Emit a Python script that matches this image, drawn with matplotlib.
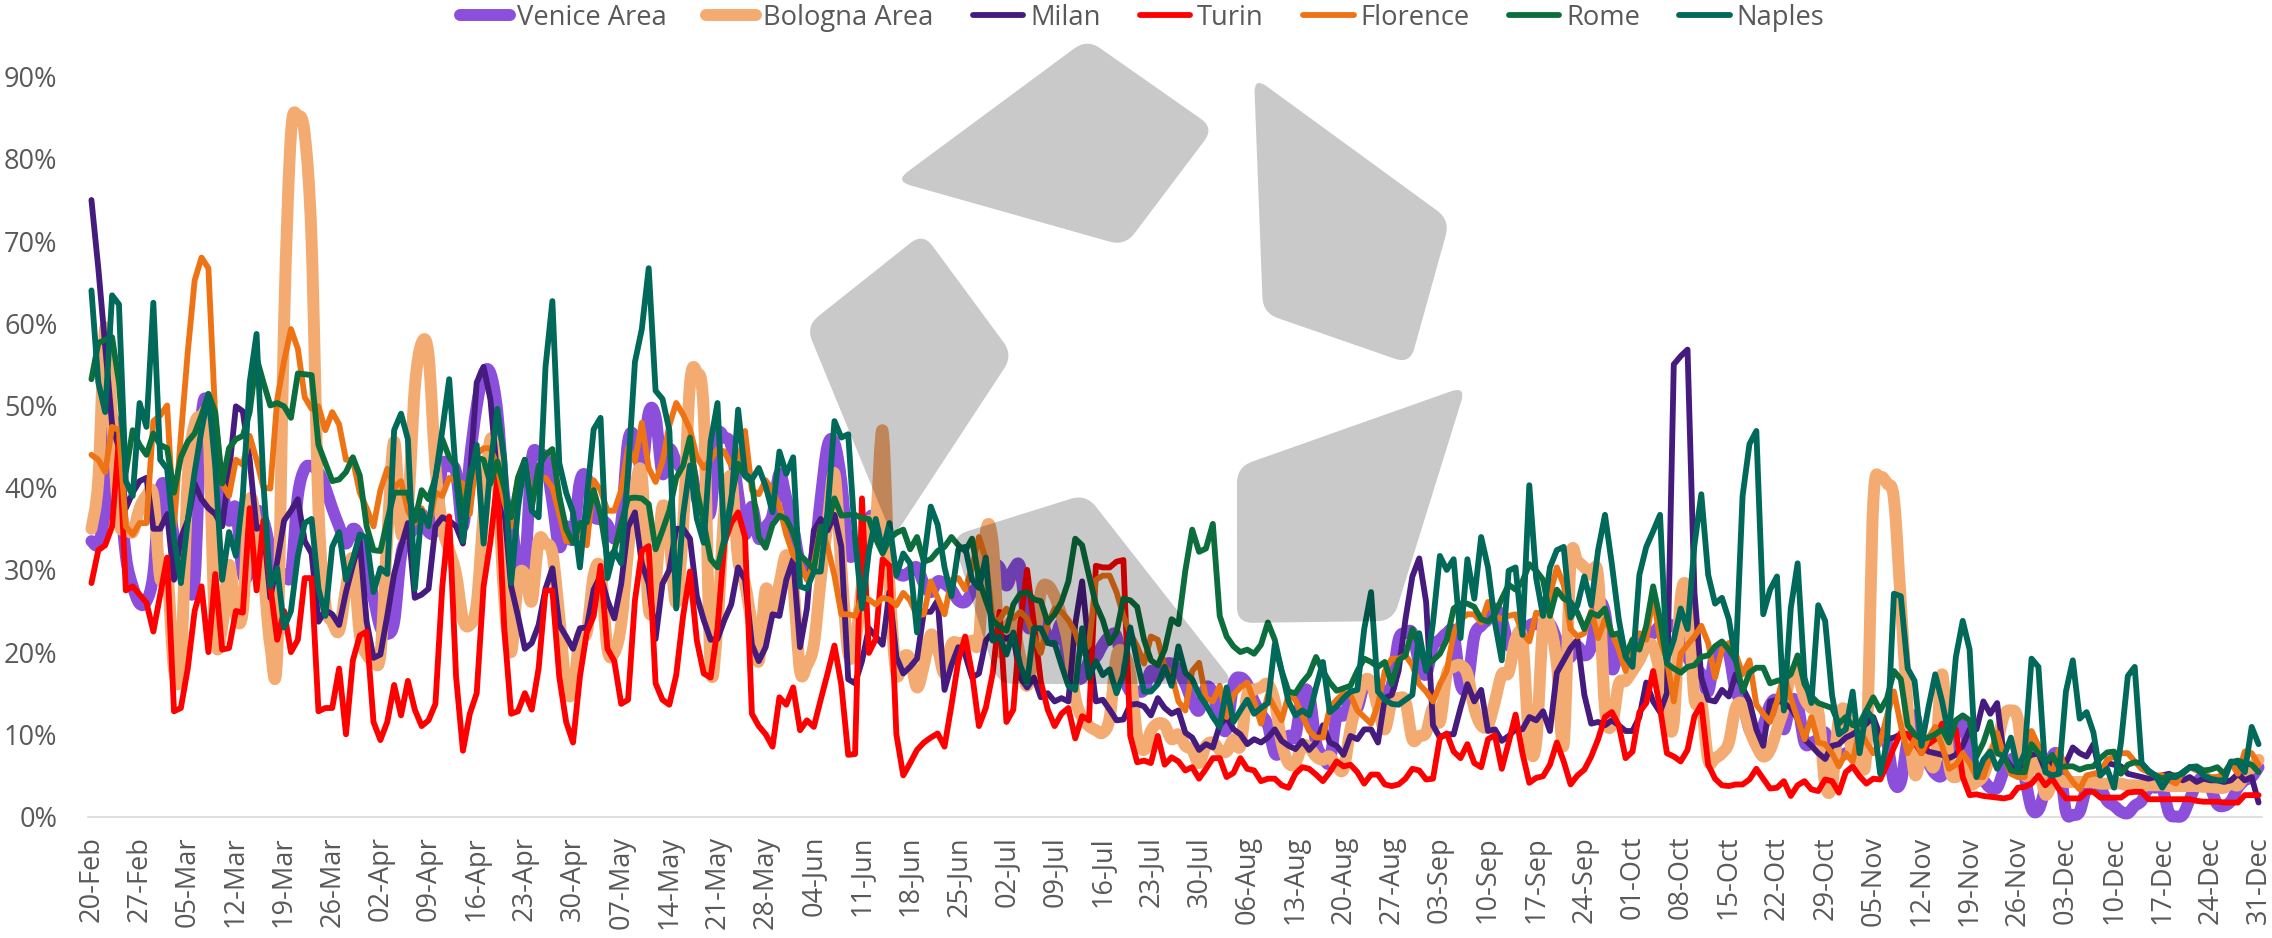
import matplotlib
matplotlib.use("Agg")
import matplotlib.pyplot as plt
import matplotlib.dates as mdates
from matplotlib.lines import Line2D
from matplotlib.path import Path
from matplotlib.patches import PathPatch
import numpy as np
import pandas as pd

dates = pd.date_range("2020-02-20", "2020-12-31", freq="D")

venice = [
33.5,33.2,37.5,48.5,41.2,31.7,28,25.9,26.2,29.5,
39.7,39.4,33.9,30.2,28,28.8,48.5,49.9,42.6,39.7,
36,37.5,29.5,30.2,36.8,36,32.4,28.8,29.5,29.5,
39,42.3,42.6,41.9,40,37.5,35.3,33.2,35,33.9,
30.2,26.6,23,22.2,23.7,31.7,33.9,35.3,36.8,34.6,
35.3,42.6,42.6,41.9,35.3,43.4,49.9,53.9,53.9,49.2,
39,36,30.2,30.2,43.4,44,43.4,38.3,32.8,35.3,
33.8,40.7,41.2,36.7,36.2,35.5,33.8,35.7,45.6,46.1,
42.2,49.1,48.6,41.7,44.7,43.2,42.2,42.7,38.7,37.7,
37.2,46.1,46.1,45.1,39.2,34.3,37.7,33.8,35.2,36.7,
41.7,38.7,35.2,30.8,29.8,31.3,38.7,45.1,45.4,40.7,
32.3,32,32.3,36.2,36.2,33.3,31.3,29.8,29.3,29.8,
30.3,28.3,27.3,28.6,28.3,27.6,26.3,26.1,27.3,28.3,
30.8,30.8,30.3,28.1,30,30.3,23.4,23.4,23.9,21.9,
21.4,23.4,18.4,16.9,16.9,18.9,19.4,20.9,21.9,21.9,
17.3,15.2,15.2,15.4,17.7,16.9,18.4,18.6,17.7,16.1,
14,12.9,15.7,15,11.7,10.6,16.1,16.9,16.1,14,
12.5,11.1,7.7,8.1,9.8,9.8,14.8,14.8,9,7.3,
6.7,12.3,12.3,14,13.2,16,16,16,14.8,16,
21.5,22.3,22.3,18.6,17.3,20.7,21.5,22.3,22.3,16.1,
16.1,21.9,23.2,24,25.3,24,20.9,20.9,21.5,23.2,
23.4,23.2,23.4,21.5,19.4,19.4,20.7,19.6,20.7,25.7,
24.8,18,20.3,19.8,19.4,21.5,21.9,22.3,23.2,23.2,
23.2,21.9,19.4,18.2,17.3,15.2,19.8,20.3,19.8,15.2,
14,10.6,10.2,11.1,13.6,14,10.6,14,13.6,9,
9,9.4,10.2,7.3,7.3,7.7,8.1,9.4,10,10,
9.4,9,4.2,4.2,9.4,12.3,8.1,6.5,5.2,5,
7.3,11,11,8.1,5.2,4.4,3.5,3.5,5.6,6.9,
6.9,4.8,1,0.8,3.5,7.3,6.9,0.6,0.2,0.6,
3.5,4.4,3.5,1.9,1.3,0.6,0.4,1.3,1.9,3.5,
3.5,3.5,0.4,0,0.2,2.1,4,4.8,3.5,1.5,
1.3,1.9,3.5,4.4,4.8,6]

bologna = [
35,41,59.4,48.5,36,35.3,34.6,37.5,39,39,
29,30,17.9,18.6,41.2,47.7,48.5,47,22.2,23,
30.6,24.4,25,38.3,35.3,29.5,20.8,19.7,60,83,
85.2,83,70,37.5,25.9,23.7,22.6,27.7,31.3,22.2,
19.7,19,19.7,33.9,45.6,34.6,37.5,52.1,57.6,56.1,
42.6,35.3,32.4,29.5,24,23.3,25.9,36.8,45.9,41.2,
26.6,20,28.8,29.5,26.2,33.5,33.2,32,24.4,15.7,
15.4,21.9,22.4,29.3,30,20.4,19.9,23.4,32.3,39.7,
41.4,25.3,28.3,37.7,33.8,26,35.2,52.6,54,49.1,
18.4,23.4,37.2,41.2,31.3,28.3,23.4,18.9,27.6,24.9,
28.3,31.8,28.3,17.7,18.4,20.9,28.8,35.7,41.7,30.3,
19.9,20.9,28.3,35.7,35.7,46.9,28.3,17.4,19.4,19.2,
15.7,18.4,22.1,20.4,17.4,20.9,21.1,21.1,21.4,21.6,
34.5,33.3,20.4,23,23.4,19.4,15.9,20.4,27.3,28.1,
26.8,24.4,20.9,14.5,12,11,10.5,10.2,12,19.4,
19.9,17.3,9.8,8.1,10.4,11.3,11.1,9.4,10,8.6,
8.1,6.5,8.6,9,8.1,7.9,9.4,8.6,14.8,15.4,
15.7,16.1,14,9,6.5,6.5,8.6,8.4,7.3,6.9,
7.3,6.1,5.8,10.6,14,16.5,16.3,13.2,10.6,14,
14.4,14,9.4,9.8,10.2,13.2,11.5,17.3,18.2,18.4,
17.3,13.2,11.1,11.1,14,17.3,17.5,21.5,21.5,9,
9,23.2,23.2,18.6,8.8,31,31,30.3,29.4,29.2,
13.2,11.1,16.1,16.5,17.7,19,20.7,20.7,17.3,11.9,
11.5,26.5,26.9,14.4,14,6.9,7.1,7.7,9,13.2,
13.6,10.6,8.6,7.3,8.1,10.6,13.2,17.3,17.3,14.4,
13.2,12.8,4,3.8,11.9,12.7,7.3,7.7,8,38.2,
41.2,40.5,38.6,26,13.2,5.2,7.3,6.9,6.7,17.3,
6.5,4.8,6.5,4,4.2,5,7.3,9,12.3,12.9,
11.9,5.2,6.1,6.5,2.7,4,4.4,4.2,4.2,4.2,
4.2,4.2,4,4,4,4,3.8,3.8,3.7,3.8,
3.8,3.8,3.7,3.7,3.7,3.7,3.7,3.6,3.6,3.5,
3.5,4,3.8,5,6,6.9]

milan = [
75,66.7,57.2,47.7,44.8,37.5,39.4,40.8,41.2,35,
35,36.8,28.8,33.9,36,40.5,38.6,37.5,36.8,35.3,
41.9,49.9,49.3,43.4,35,35.3,26.6,31,36,37.2,
38.6,33.5,32,23.7,25.1,24.6,23.3,27.3,30.6,33.5,
23.7,19.3,19.7,24.4,29.5,32.8,35.7,26.6,27,27.7,
35.3,36.4,36,35.3,33.2,41.2,52.8,54.7,50.7,41.2,
37.5,28,24.4,20.4,21.1,23.3,27.7,30.2,23.3,21.9,
20.4,22.9,23,27.6,29.3,26.3,24.1,28.3,35.2,37,
30.8,28.3,21.6,28.3,30,35,35,33.8,26.8,23.9,
21.5,21.6,23.9,25.8,30.3,28.8,20.9,18.9,20.6,24.6,
24.4,28.8,31.3,20.6,25.3,34.8,36.2,34.8,36.7,32.8,
16.7,16.2,18.9,22.9,21.9,20.9,27.3,19.4,17.4,18.2,
19.2,24.9,24.9,26.3,15.4,18.4,20.6,19.7,16.9,17.4,
21.4,22.4,22.1,21.6,22.1,16.9,15.7,16.9,14.5,15,
14,14.4,14,23.4,28.6,20.4,14,14.2,13,11.7,
11.8,13.6,13.7,13.4,12.3,14.4,13.2,12.5,12.9,10.2,
9.6,8.1,8.8,8.4,11.1,12.1,10.6,10,8.8,9.4,
9,9.6,10.6,9.2,8.6,8.2,9.2,8.1,9,11.1,
9,8.6,7.5,9.8,9.4,10.6,10.6,9,14.4,14.8,
17.7,24,29.2,31.4,26.1,11.1,9.6,10,10,13.2,
16.1,14,15.4,10.4,10.6,9.2,9.8,10.6,10.6,12.1,
11.7,12.8,10.4,17.5,19,20.5,21.5,14.8,11.3,11.5,
11.1,11.7,11.1,10.4,10.4,12.1,16.3,14,12.7,15,
55,56,56.8,27.3,16.9,14.2,14,15.4,14.6,17.3,
15.7,14,10.6,8.6,14,14.2,13.8,13.2,11.9,9.4,
8.6,7.7,7,8.6,8.8,9.6,10,10.6,11.3,12.1,
9.8,9.4,9.6,10,10,9.6,9,7.9,7.7,7.5,
7.1,7.5,8.6,10.6,10.6,14,12.5,13.8,7.3,6.1,
5.6,6.9,7.5,7.7,5.6,6.5,5.6,6.5,8.4,7.7,
7.3,8.8,5,6.5,6.3,6.1,5.2,5,4.8,4.6,
4.8,5,5.2,4.8,4.4,4.8,4.2,4.6,4.4,4.4,
4.2,4.4,5.2,4.4,4.8,1.7]

turin = [
28.4,32.4,33,35.3,46,27.5,28,27,26,22.5,
27,31.5,12.8,13.2,18,25,28,20,29.5,20.3,
20.5,25,24.8,37.5,27.5,36,28,21.5,25,20,
21.5,29,29,12.8,13.2,13.2,18,10,19,22,
22.5,11.5,9.3,11.5,16,12.3,16.5,13,11,11.7,
13.7,28,36.5,17,8,12.5,15,28,33.5,41,
23,12.5,12.8,15,13,18,27.5,27.5,17,11.5,
9,17,22.4,24.4,30.5,20.4,18.9,13.7,14.2,26.3,
32.3,32.9,16.2,14.2,13.6,17.2,24.4,29.8,21.4,17.4,
16.9,22.9,33.3,35.7,37,34,12.5,11,10,8.5,
14.5,13.6,15.7,10.5,11.7,10.9,14.2,17.4,20.8,16,
7.5,7.6,38.7,19.9,21.6,31.3,30.5,10,5,6.5,
8.1,9,9.6,10.1,8.5,13.5,18.9,21.9,17.4,11,
13.2,17.4,24.9,11.5,13,23.4,30,23.4,16.4,13,
11,12.5,13.2,9.5,12.2,11.7,30.5,30.3,30.3,31,
31.2,9.8,6.6,6.8,6.5,9.8,6.3,7.2,6.7,5.6,
6,4.6,5.8,7.1,7.1,4.8,5.3,7.1,5.8,5.6,
4.3,4.6,4.6,3.8,3.5,5.2,6,5.8,5.1,4.3,
5.4,6.7,6.1,6.3,5.4,4,5.1,5.1,3.9,3.7,
3.9,4.6,5.8,5.6,4.5,4.6,9.6,10.1,7.9,7.1,
8.8,6.5,6,9.4,9.9,5.8,9,12.4,7.7,4.1,
4.7,4.9,6.3,9,6.7,3.9,5,5.7,7.3,9.4,
12.1,12.7,11.1,7.1,7.9,12.7,13.8,17.7,13.2,7.7,
7.3,6.7,8.1,12.2,13.6,6.3,4.6,3.8,3.7,3.9,
3.9,4.5,5.8,4.6,3.4,3.5,4.3,2.5,3.8,4.3,
3.3,3.1,4.5,4.3,2.9,5.4,6.1,4.9,4,4.6,
4.5,6.3,8.4,10.2,10,9,7.7,8.8,9.4,11.3,
10,10.6,4.8,2.6,2.7,2.5,2.4,2.3,2.2,2.4,
3.5,3.6,4,5,3.8,4.6,3.3,2.2,2.2,2.2,
3,3,2.3,2.3,2.3,2.3,2.9,3,3,2.1,
2.1,2.1,2.1,2.1,2.1,2.1,1.9,1.8,1.8,1.8,
1.7,1.7,1.7,2.6,2.6,2.6]

florence = [
44,43.4,41.9,47.4,47,35.3,34.3,35.7,35.7,48.1,
48.8,50,35.3,46.3,56.5,65.2,68,66.7,48.5,40.5,
39,43.4,42.8,46.3,43.4,40,39.9,50.7,55.4,59.3,
56.9,51,49.6,49.9,47,49.2,47.7,43.4,43.4,39.4,
37.5,35.3,39.7,42.3,40,40.8,37.2,35.7,37.5,35.3,
39.4,39,41.2,40.8,40.5,36.8,44.1,44.8,44.8,42.6,
38.3,35.3,41.2,43.4,38.6,41.2,41.2,40,36.8,33.5,
33.5,34.5,33,40.9,39.7,37.2,37.2,39.7,44.9,43.2,
47.9,42.4,40.7,43.2,47.6,50.3,48.9,47.1,43.7,42.4,
43.4,44.7,44.4,42.7,42.9,46.9,39.7,39.2,40.9,39.7,
37.7,34.3,31.8,30.8,28.8,30.8,35.2,32.8,29.3,24.6,
24.6,24.4,26.8,26.4,25.8,26.6,26.4,25.7,27.2,26.3,
24.4,24.6,28.6,26.6,24.6,28.8,29,27.6,30.3,34,
31.3,23.9,23.9,25.3,24.1,24.9,24.1,21.9,19.9,23.4,
25.3,24.9,23.9,22.4,19.9,20.9,28.8,29.3,29.3,27.3,
24.4,22.3,20.7,18.6,21.9,21.5,18.2,17.3,14,12.9,
17.7,18.7,14.4,14,15.9,12.1,14.8,15.7,16.3,14,
11.3,14.8,13.2,11.7,14.8,14.2,12.3,10.4,9.6,9.6,
13.2,14.2,15,14.8,12.9,12.1,11.3,13.6,17.7,19.2,
19.2,19.6,18.4,16.1,15.2,14,16.1,17.7,22.3,24,
24.6,24.6,23.6,26.1,24.4,24,24.4,24.6,22.3,21.3,
24.8,24.6,26.9,30.3,28.2,22.8,21.9,22.3,25,21.7,
24,22.3,20.3,17.7,21.5,22.3,21.5,26.9,21.5,19,
14,19.8,20.9,21.9,23.2,21.1,16.9,20.3,21.1,19.8,
17.3,19,13.6,12.5,11.5,14,17.3,14.4,11.9,9.4,
12.1,9,8.8,7.7,6.1,7.7,6.7,10.6,9,7.7,
9,12.3,15.2,11.1,7.7,9.4,7.7,9.6,10.9,8.6,
5.8,6.3,7.7,6.5,4.8,4.8,7.3,10.2,7.3,5.2,
4.8,4.8,10.4,8.6,6.5,5.2,8.1,5.4,4.2,3.3,
5,5.2,5.4,6.9,7.3,7.7,7.7,6.7,5.8,5.4,
5,5,4.4,4,5.4,6,5.6,5.2,4.8,4.8,
5.2,6.5,5.2,7.9,7.7,6.3]

rome = [
53.2,57.6,58,58.3,52.8,41.9,47,45.2,44,46.6,
45.2,44.8,39.4,43.7,45.6,46.6,48.8,51.4,49.2,40.5,
44.8,45.9,46.3,49.2,55.8,52.8,50,50.3,49.9,48.5,
53.9,53.8,53.7,45.2,43,40.8,41,41.9,43.7,41.5,
35.3,32.4,32.3,36,39.4,39.4,39.4,36,39.7,38.6,
41.2,45.9,43.7,42.6,36,41.9,43.7,43.4,40.5,43.2,
40,36.4,41.2,43.4,37.5,42.6,44,44.7,39,35,
33.3,35.7,35.8,39.7,36.7,31.3,32.3,35.7,38.7,38.8,
38.7,38,32.5,34.8,37.2,41.2,42.7,46.1,39.7,35.7,
31.3,30.3,33.8,38.7,42.9,41.4,40.7,34,32.7,35.5,
36.6,36.2,34.5,31.8,31,30,35.2,35.5,38.7,36.6,
36.7,36.7,36.3,36.2,33.8,32,33.8,34.5,34.9,32.5,
34,31,31.3,32.3,32.8,34,33,32.3,33.8,28.8,
26.3,23.9,23.1,22.6,25.8,27.1,27.3,26.4,26.2,23.6,
24.6,26.1,28.6,33.8,33,29.3,25.8,23.9,21.1,22.4,
26.5,26.3,25.5,21.5,19,18.4,20.3,24,23.4,29.9,
34.9,32.2,32.6,35.6,24.4,21.9,20.7,20,20.3,19.8,
20.9,23.6,21.5,17.7,15.2,15,16.3,17.3,19.4,17.7,
16.3,15.3,15.6,15.9,17.7,19.2,18.8,18.2,18.8,16.1,
19,19.6,22.8,20.7,18.2,19,19.8,21.5,25.3,25.9,
25.9,25.5,24,23.7,24.6,26.5,28.2,27.6,28.6,30.7,
29.9,28.8,24.4,27.6,26.5,26.1,24.8,22.8,24.8,24.4,
25.3,22.1,22.3,19.6,21.5,20.3,23.2,28,24,18.6,
18,17.5,18.2,18.4,19.4,19.6,20.7,21.3,20.3,19,
15.2,17.5,18.1,18.1,16.2,16.5,16.7,17.3,19.6,16.1,
14.6,13.8,13.5,13.2,11.3,12.1,11.1,11.3,12.9,14.5,
12.9,14.4,17.7,16.7,11.1,10,9.4,9.6,10,10.6,
9,11.7,12.3,11.7,7.3,9,11.5,7.7,7.3,5.6,
5.4,5.4,8.8,7.7,6.5,7.5,6,6.1,6.1,5.7,
6,6.1,7.1,7.8,7.9,5.2,6.3,6.6,6.5,5.4,
5,4.6,5,5,5.2,6,6.1,5.6,5.7,6,
5.2,6.6,6.8,6.5,6.3,5.4]

naples = [
64,52.8,49.2,63.4,62.3,40.8,39,50.3,47.4,62.5,
43.4,42.3,33.9,28.4,36,41.9,47,51.4,42.6,28.8,
34.6,31.7,39,52.8,58.7,40.5,28,30.2,23,25,
31.7,35.7,36.2,27.7,24.4,32.8,34.6,28.8,31.3,34.3,
33.9,27.3,30.2,29.5,47,49,45.9,27.7,37.2,35.3,
41.2,47,53.2,41.2,33.5,40.5,45.2,33.2,42.6,49.6,
43.4,28.4,37.5,43.4,37.2,36.4,54.7,62.7,43,39.4,
37,30.3,38.7,47.1,48.5,29,32.3,30.8,42,55.3,
59.3,66.7,51.8,50.8,47,25.3,36.7,42.7,36.2,33.3,
45.6,50.3,33.3,38.2,49.5,41.7,41,42.4,40.2,37,
44.4,41.7,43.7,28,27.7,29.8,29.8,37.2,48.1,46.1,
46.5,33.8,25.3,32.3,36.2,32.3,35.7,29.3,32,30.8,
22.4,31.3,37.7,35.5,30.3,26.8,32.5,32.8,28.8,27.8,
31.5,21.4,21.9,19.7,22.4,18.4,16.2,22.9,22.9,21.1,
21.1,18.4,15.9,15.4,22.9,16.9,18.9,17.2,17.9,15,
17.3,23,18.8,15.2,15.2,16.1,18.2,15.9,20.7,17.5,
16.7,14.8,13.6,12.1,10.9,15.7,11.5,12.9,14.2,12.5,
13.2,13.8,20.9,17.7,14,12.3,12.9,12.3,15.7,18.8,
12.7,13.4,14.4,15.2,15.4,22.8,27.3,15.2,14.2,13.7,
13.6,14.2,14.8,22.3,17.7,23.6,31.7,30,31.3,21.7,
31.3,26.5,34,30.3,23.6,19,29.9,30.3,22.1,40.3,
29,24.4,30.3,32.4,32.8,24.2,25.7,29.2,25.7,32.4,
36.7,30.7,24,19.4,18.2,29.4,32.8,34.7,36.7,19,
21.5,25.3,22.8,33,39.2,29.4,25.9,26.6,24,19,
39,45.3,46.9,24.6,27.6,29.2,12.9,25.3,30.8,16.9,
13.8,25.7,23.8,14.8,10,10.6,15.2,7.7,12.9,11.9,
5.2,9,27.1,26.8,18,16.5,8.6,13.2,17.3,14,
9.8,19.4,23.8,20.3,4.8,6.9,7.9,5.8,7.3,9.6,
5.8,7.7,19.2,18.2,5.4,5,5.2,15.2,19,11.9,
12.7,10.2,5,5.8,3.5,9,17.1,18.2,6.5,5.6,
5,3.5,4.8,4.8,5.4,6,5.8,5,4.6,4.4,
4.4,6.7,6.5,5.4,10.9,8.8]

series_names = ["Venice Area", "Bologna Area", "Milan", "Turin", "Florence", "Rome", "Naples"]
series_values = [venice, bologna, milan, turin, florence, rome, naples]
series_colors = ["#8B4FDC", "#F4AB72", "#461B7E", "#FF0000", "#EE7315", "#0B6E3C", "#00695A"]
series_widths = [8.6, 8.6, 4.2, 4.2, 4.2, 4.2, 4.2]
series_smooth = [True, True, False, False, False, False, False]

W, H = 2272, 938
plt.rcParams["font.family"] = ["Open Sans", "DejaVu Sans"]
fig = plt.figure(figsize=(W / 100, H / 100), dpi=100)
ax = fig.add_axes([88 / W, 1 - 816.5 / H, 2174 / W, 739.8 / H])
x_num = mdates.date2num(dates)


def smooth_path(x, y):
    """Excel-style smoothed line: a cubic curve passing through every data point."""
    p = np.column_stack([x, y])
    prev = np.vstack([p[0], p[:-1]])
    nxt = np.vstack([p[1:], p[-1]])
    tang = (nxt - prev) / 6
    verts = [p[0]]
    codes = [Path.MOVETO]
    for i in range(len(p) - 1):
        verts += [p[i] + tang[i], p[i + 1] - tang[i + 1], p[i + 1]]
        codes += [Path.CURVE4] * 3
    return Path(np.array(verts), codes)


handles = []
for i, (name, vals, col, lw, sm) in enumerate(zip(series_names, series_values, series_colors,
                                                  series_widths, series_smooth)):
    y = np.array(vals) / 100
    if sm:
        ax.add_patch(PathPatch(smooth_path(x_num, y), facecolor="none", edgecolor=col, lw=lw,
                               joinstyle="round", capstyle="round", clip_on=False, zorder=2 + i * 0.1))
    else:
        ax.plot(dates, y, color=col, lw=lw, solid_joinstyle="round", solid_capstyle="round",
                clip_on=False, zorder=2 + i * 0.1)
    handles.append(Line2D([], [], color=col, lw=lw, solid_capstyle="round", label=name))

ax.set_xlim(dates[0] - pd.Timedelta(hours=12), dates[-1] + pd.Timedelta(hours=12))
ax.set_ylim(0, 0.9)
ax.set_yticks(np.arange(0, 0.91, 0.1))
ax.set_yticklabels([f"{i}%" for i in range(0, 91, 10)], fontsize=19.5, color="#595959")
ax.set_xticks(dates[::7])
ax.xaxis.set_major_formatter(mdates.DateFormatter("%d-%b"))
ax.tick_params(axis="x", length=0, pad=14, labelsize=19.5, labelcolor="#595959", labelrotation=90)
ax.tick_params(axis="y", length=0, pad=22)
for s in ["top", "right", "left"]:
    ax.spines[s].set_visible(False)
ax.spines["bottom"].set_color("#D9D9D9")
ax.spines["bottom"].set_linewidth(1.2)
ax.spines["bottom"].set_zorder(0)
ax.patch.set_visible(False)

ax.legend(handles=handles, loc="center", bbox_to_anchor=(1142 / W, 1 - 18 / H), bbox_transform=fig.transFigure,
          ncol=7, frameon=False, fontsize=19.7, handlelength=1.84, handletextpad=0.25,
          columnspacing=1.44, borderpad=0, labelcolor="#595959")


def rounded(points, r):
    pts = np.array(points, float)
    n = len(pts)
    verts, codes = [], []
    for i in range(n):
        p, a, b = pts[i], pts[i - 1], pts[(i + 1) % n]
        u = (a - p) / np.linalg.norm(a - p)
        v = (b - p) / np.linalg.norm(b - p)
        s, e = p + u * r, p + v * r
        verts.append(s)
        codes.append(Path.MOVETO if i == 0 else Path.LINETO)
        verts += [p, e]
        codes += [Path.CURVE3, Path.CURVE3]
    verts.append(verts[0])
    codes.append(Path.CLOSEPOLY)
    verts = np.array(verts)
    verts = np.column_stack([verts[:, 0] / W, 1 - verts[:, 1] / H])
    return Path(verts, codes)


logo_shapes = [
    [(895, 181), (1087, 39), (1214, 128), (1125, 246)],
    [(1254, 77), (1450, 220), (1410, 364), (1263, 313)],
    [(806, 326), (923, 233), (1013, 355), (893, 538)],
    [(952, 536), (1086, 494), (1235, 684), (998, 684)],
    [(1237, 467), (1466, 386), (1393, 621), (1237, 623)],
]
for shape in logo_shapes:
    ax.add_patch(PathPatch(rounded(shape, 16), facecolor="black", edgecolor="none", alpha=0.21,
                           transform=fig.transFigure, clip_on=False, zorder=10))

fig.savefig("out.png", dpi=100)
